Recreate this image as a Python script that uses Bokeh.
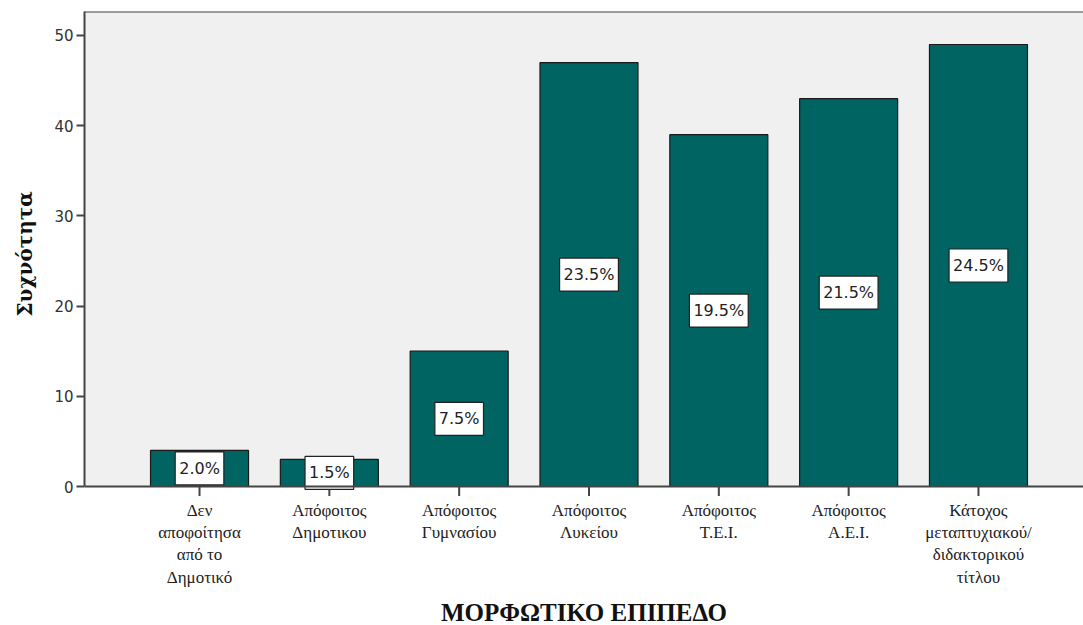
from bokeh.plotting import figure
from bokeh.layouts import column
from bokeh.models import ColumnDataSource, FixedTicker, Span, Range1d, BoxAnnotation
from bokeh.core.properties import value
from bokeh.embed import file_html
from bokeh.resources import INLINE

# Education level categories (multi-line names)
categories = [
    "Δεν\nαποφοίτησα\nαπό το\nΔημοτικό",
    "Απόφοιτος\nΔημοτικου",
    "Απόφοιτος\nΓυμνασίου",
    "Απόφοιτος\nΛυκείου",
    "Απόφοιτος\nΤ.Ε.Ι.",
    "Απόφοιτος\nΑ.Ε.Ι.",
    "Κάτοχος\nμεταπτυχιακού/\nδιδακτορικού\nτίτλου",
]
counts = [4, 3, 15, 47, 39, 43, 49]
percent_labels = ["2.0%", "1.5%", "7.5%", "23.5%", "19.5%", "21.5%", "24.5%"]
y_ticks = [0, 10, 20, 30, 40, 50]
x_title = "ΜΟΡΦΩΤΙΚΟ ΕΠΙΠΕΔΟ"
y_title = "Συχνότητα"

positions = list(range(1, len(categories) + 1))

Y_END = 52.66
PX_PER_UNIT = 475 / Y_END          # plot area is 475 px tall above zero
Y_START = -10 / PX_PER_UNIT        # room below zero for the tick marks
AXIS_COLOR = "#444444"
SERIF = "Liberation Serif"
x_range = Range1d(0.114, 7.809)

source = ColumnDataSource(dict(
    x=positions,
    top=counts,
    mid=[c / 2 for c in counts],
    label=percent_labels,
    t0=[0] * len(positions),
    t1=[Y_START] * len(positions),
))

# ---- main chart -------------------------------------------------------
p = figure(
    width=1083, height=496,
    x_range=x_range,
    y_range=Range1d(Y_START, Y_END),
    x_axis_location=None,
    output_backend="svg",
    toolbar_location=None,
    min_border_left=84, min_border_top=11,
    min_border_bottom=0, min_border_right=0,
)
p.background_fill_color = "white"
p.border_fill_color = "white"
p.outline_line_color = None
p.grid.visible = False

# grey plot area above the zero line
p.add_layout(BoxAnnotation(bottom=0, top=Y_END, fill_color="#f0f0f0", fill_alpha=1,
                           line_color=None, level="underlay"))

p.vbar(x="x", top="top", bottom=0, width=0.755, source=source,
       fill_color="#006462", line_color="#1a1a1a", line_width=1.2)

# x tick marks below the zero line
p.segment(x0="x", y0="t0", x1="x", y1="t1", source=source,
          line_color=AXIS_COLOR, line_width=2)

# percentage labels in white boxes at bar mid-height
p.text(
    x="x", y="mid", text="label", source=source,
    text_align="center", text_baseline="middle",
    text_font=value("DejaVu Sans"), text_font_size="16px", text_color="#222222",
    background_fill_color="white", border_line_color="#222222",
    border_line_width=1.2, padding=dict(left=4, right=4, top=7, bottom=7),
)

# frame edges: top line and the x axis line
p.add_layout(Span(location=Y_END, dimension="width", line_color=AXIS_COLOR, line_width=2))
p.add_layout(Span(location=0, dimension="width", line_color=AXIS_COLOR, line_width=2))

p.yaxis.ticker = FixedTicker(ticks=y_ticks)
p.yaxis.bounds = (0, Y_END)
p.yaxis.minor_tick_line_color = None
p.yaxis.major_tick_in = 0
p.yaxis.major_tick_out = 8
p.yaxis.axis_line_color = AXIS_COLOR
p.yaxis.axis_line_width = 2
p.yaxis.major_tick_line_color = AXIS_COLOR
p.yaxis.major_tick_line_width = 2
p.yaxis.major_label_text_font = "DejaVu Sans"
p.yaxis.major_label_text_font_size = "15px"
p.yaxis.major_label_text_color = "#333333"
p.yaxis.major_label_standoff = 3
p.yaxis.axis_label = y_title
p.yaxis.axis_label_text_font = "DejaVu Serif"
p.yaxis.axis_label_text_font_style = "bold"
p.yaxis.axis_label_text_font_size = "20px"
p.yaxis.axis_label_text_color = "#111111"
p.yaxis.axis_label_standoff = 14

# ---- category names and x title (pixel-based y scale) -----------------
BOTTOM_H = 625 - 496
b = figure(
    width=1083, height=BOTTOM_H,
    x_range=x_range,
    y_range=Range1d(0, BOTTOM_H),
    x_axis_location=None, y_axis_location=None,
    output_backend="svg",
    toolbar_location=None,
    min_border_left=84, min_border_top=0,
    min_border_bottom=0, min_border_right=0,
)
b.background_fill_color = "white"
b.border_fill_color = "white"
b.outline_line_color = None
b.grid.visible = False

name_src = ColumnDataSource(dict(
    x=positions,
    cat=categories,
    ty=[BOTTOM_H - 4] * len(positions),
))
b.text(x="x", y="ty", text="cat", source=name_src,
       text_align="center", text_baseline="top",
       text_font=value("serif"), text_font_size="17px", text_color="#222222",
       text_line_height=1.18)
b.text(x=[(x_range.start + x_range.end) / 2], y=[13], text=[x_title],
       text_align="center", text_baseline="middle",
       text_font=value(SERIF), text_font_style="bold",
       text_font_size="25px", text_color="#111111")

layout = column(p, b, spacing=0)
open("out.html", "w").write(file_html(layout, INLINE))
